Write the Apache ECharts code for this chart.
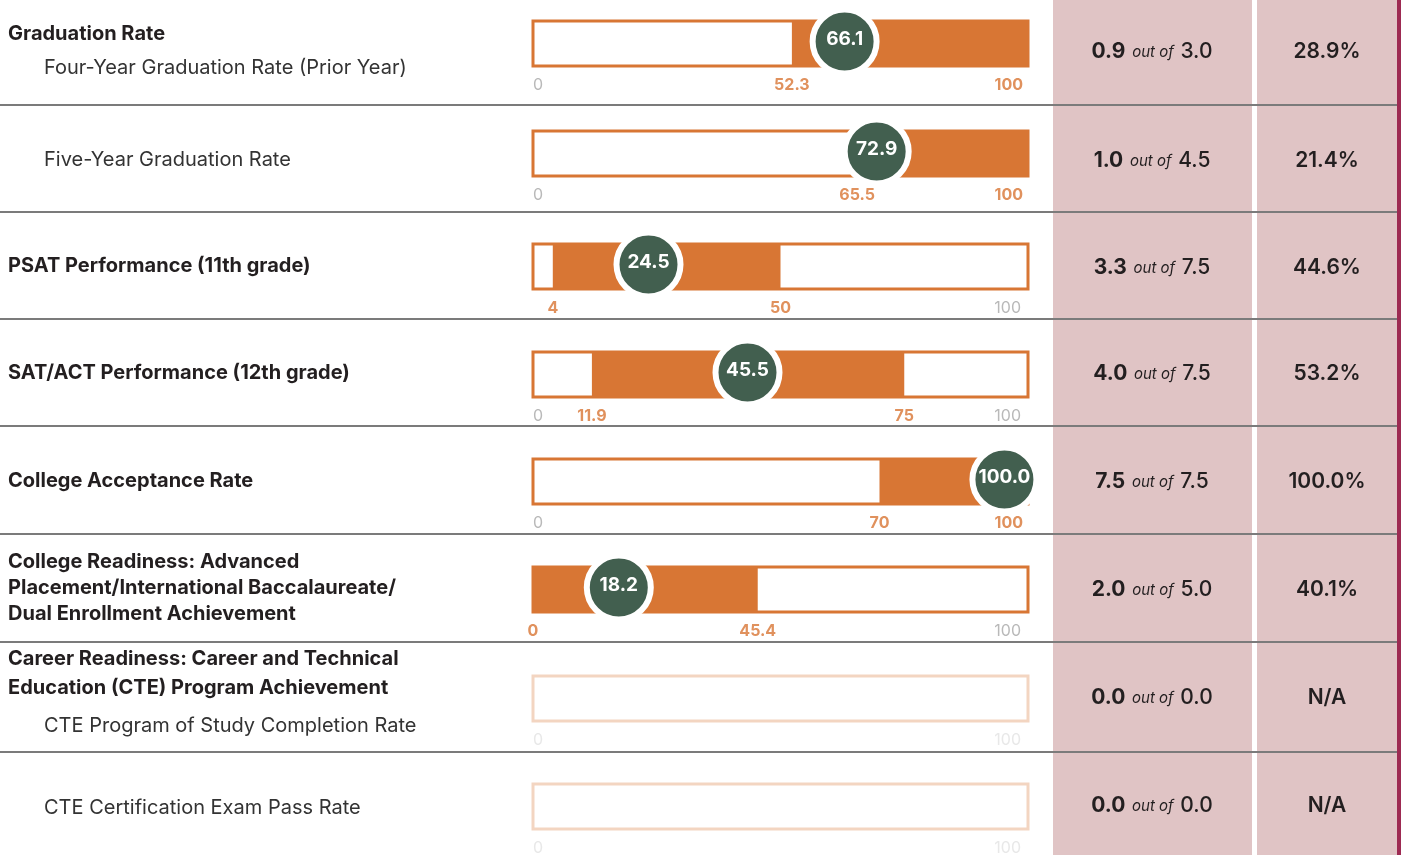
<!DOCTYPE html>
<html>
<head>
<meta charset="utf-8">
<title>Student outcome metrics</title>
<script src="https://cdn.jsdelivr.net/npm/echarts@6/dist/echarts.min.js"></script>
<style>
  html, body { margin: 0; padding: 0; background: #fff; }
  #chart { width: 1401px; height: 855px; }
</style>
</head>
<body>
<div id="chart"></div>
<script>
// --- data ---
const titleLines = [
  ['Graduation Rate'],
  [],
  ['PSAT Performance (11th grade)'],
  ['SAT/ACT Performance (12th grade)'],
  ['College Acceptance Rate'],
  ['College Readiness: Advanced', 'Placement/International Baccalaureate/', 'Dual Enrollment Achievement'],
  ['Career Readiness: Career and Technical', 'Education (CTE) Program Achievement'],
  []
]
const subTitles = [
  'Four-Year Graduation Rate (Prior Year)',
  'Five-Year Graduation Rate',
  '', '', '', '',
  'CTE Program of Study Completion Rate',
  'CTE Certification Exam Pass Rate'
]
const rangeLow = [52.3, 65.5, 4, 11.9, 70, 0, null, null]
const rangeHigh = [100, 100, 50, 75, 100, 45.4, null, null]
const schoolValue = [66.1, 72.9, 24.5, 45.5, 100.0, 18.2, null, null]
const pointsEarned = [0.9, 1.0, 3.3, 4.0, 7.5, 2.0, 0.0, 0.0]
const pointsPossible = [3.0, 4.5, 7.5, 7.5, 7.5, 5.0, 0.0, 0.0]
const percentLabels = ['28.9%', '21.4%', '44.6%', '53.2%', '100.0%', '40.1%', 'N/A', 'N/A']
const scaleMin = 0
const scaleMax = 100

// --- layout ---
const W = 1401, H = 855
const FONT = 'Inter, "Open Sans", sans-serif'
const ORANGE = '#d87634'
const ORANGE_FADED = '#f3d5c1'
const GREEN = '#425f4f'
const PINK = '#e0c4c5'
const INK = '#231f20'
const rowLines = [105, 212, 319, 426, 534, 642, 752]
const barTop = [21, 131, 244, 352, 459, 567, 676, 784]
const barH = 45
const barLeft = 533, barWidth = 495
const titleY = [[34], [], [266], [373], [481], [562, 588, 614], [659, 688], []]
const subY = [68, 160, 0, 0, 0, 0, 726, 808]
const scoreY = [52, 161, 268, 374, 482, 590, 698, 806]

const grids = [], xAxes = [], yAxes = [], series = []
const graphics = []

// pink score columns + right rule
graphics.push({ type: 'rect', shape: { x: 1053, y: 0, width: 199, height: H }, style: { fill: PINK }, z: 0 })
graphics.push({ type: 'rect', shape: { x: 1257, y: 0, width: 140, height: H }, style: { fill: PINK }, z: 0 })
graphics.push({ type: 'rect', shape: { x: 1397, y: 0, width: 4, height: H }, style: { fill: '#9d2a52' }, z: 0 })
rowLines.forEach(y => {
  graphics.push({ type: 'line', shape: { x1: 0, y1: y, x2: 1397, y2: y }, style: { stroke: '#7b7b7b', lineWidth: 2 }, z: 1 })
})

titleLines.forEach((lines, i) => {
  const active = schoolValue[i] != null

  lines.forEach((t, j) => {
    graphics.push({
      type: 'text', x: 8, y: titleY[i][j], z: 2,
      style: { text: t, fill: INK, font: `bold 20px ${FONT}`, textVerticalAlign: 'middle', verticalAlign: 'middle' }
    })
  })
  if (subTitles[i]) {
    graphics.push({
      type: 'text', x: 44, y: subY[i], z: 2,
      style: { text: subTitles[i], fill: '#333', font: `20px ${FONT}`, textVerticalAlign: 'middle', verticalAlign: 'middle' }
    })
  }

  // score + percent
  graphics.push({
    type: 'text', x: 1152, y: scoreY[i], z: 2,
    style: {
      text: `{b|${pointsEarned[i].toFixed(1)}}  {i|out of}  {r|${pointsPossible[i].toFixed(1)}}`,
      textAlign: 'center', align: 'center', textVerticalAlign: 'middle', verticalAlign: 'middle',
      rich: {
        b: { font: `bold 21px ${FONT}`, fill: INK, color: INK },
        i: { font: `italic 15px ${FONT}`, fill: INK, color: INK },
        r: { font: `500 21px ${FONT}`, fill: INK, color: INK }
      }
    }
  })
  graphics.push({
    type: 'text', x: 1327, y: scoreY[i], z: 2,
    style: { text: percentLabels[i], fill: INK, font: `600 21px ${FONT}`, textAlign: 'center', align: 'center', textVerticalAlign: 'middle', verticalAlign: 'middle' }
  })

  // one grid per row: the bar track
  grids.push({
    left: barLeft, top: barTop[i], width: barWidth, height: barH,
    show: true, backgroundColor: '#fff',
    borderColor: active ? ORANGE : ORANGE_FADED, borderWidth: 3
  })
  xAxes.push({ gridIndex: i, type: 'value', min: scaleMin, max: scaleMax, show: false })
  // marker axis: the circle is kept inside the track, so its scale runs a bit past 100
  xAxes.push({ gridIndex: i, type: 'value', min: scaleMin, max: 105, show: false })
  yAxes.push({ gridIndex: i, type: 'value', min: 0, max: 1, show: false })

  // scale labels under the track (0 is dropped when the range start sits right on it)
  const ticks = []
  if (!active || rangeLow[i] === scaleMin || rangeLow[i] > 8) ticks.push(scaleMin)
  if (active) ticks.push(rangeLow[i], rangeHigh[i])
  ticks.push(scaleMax)
  const uniq = [...new Set(ticks)]
  series.push({
    type: 'scatter', xAxisIndex: 2 * i, yAxisIndex: i, symbolSize: 0, silent: true, clip: false,
    data: uniq.map(v => {
      const hl = active && (v === rangeLow[i] || v === rangeHigh[i])
      const align = v === scaleMax ? 'right' : (v === scaleMin && !hl ? 'left' : 'center')
      return {
        value: [v, 0],
        label: {
          show: true, position: 'inside', align,
          offset: [v === scaleMax ? (hl ? -5 : -7) : 0, 19],
          formatter: String(v),
          fontFamily: FONT, fontSize: 16, fontWeight: hl ? 'bold' : 'normal',
          color: hl ? ORANGE : (active ? '#a8a8a8' : '#e2e2e2')
        }
      }
    })
  })

  if (!active) return

  // comparison range
  series.push({
    type: 'custom', xAxisIndex: 2 * i, yAxisIndex: i, silent: true,
    encode: { x: [0, 1] },
    data: [[rangeLow[i], rangeHigh[i]]],
    renderItem: (params, api) => {
      const a = api.coord([api.value(0), 1])
      const b = api.coord([api.value(1), 0])
      return { type: 'rect', shape: { x: a[0], y: a[1], width: b[0] - a[0], height: b[1] - a[1] }, style: { fill: ORANGE } }
    },
    z: 2
  })

  // school value marker
  series.push({
    type: 'scatter', xAxisIndex: 2 * i + 1, yAxisIndex: i, silent: true, clip: false, z: 5,
    symbol: 'circle', symbolSize: 64, symbolOffset: [0, -2],
    itemStyle: { color: GREEN, borderColor: '#fff', borderWidth: 6, opacity: 1 },
    label: {
      show: true, position: 'inside', offset: [0, -2],
      formatter: p => p.value[0].toFixed(1),
      color: '#fff', fontFamily: FONT, fontSize: 19, fontWeight: 'bold'
    },
    data: [[schoolValue[i], 0.5]]
  })
})

const chart = echarts.init(document.getElementById('chart'), null, { renderer: 'canvas' })
chart.setOption({
  animation: false,
  backgroundColor: '#fff',
  grid: grids,
  xAxis: xAxes,
  yAxis: yAxes,
  series,
  graphic: { elements: graphics }
})
</script>
</body>
</html>
